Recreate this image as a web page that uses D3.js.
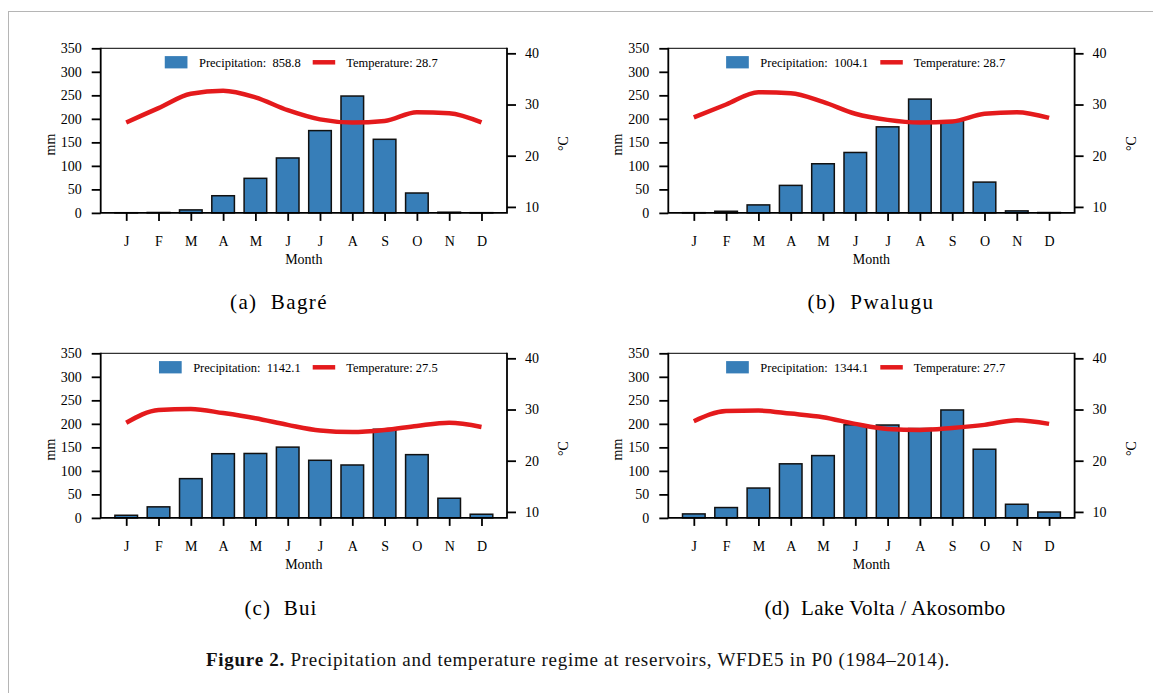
<!DOCTYPE html>
<html>
<head>
<meta charset="utf-8">
<script src="https://cdn.jsdelivr.net/npm/d3@7"></script>
<style>
  body { margin: 0; background: #fff; }
  svg { display: block; }
</style>
</head>
<body>
<div id="fig"></div>
<script>
// 月份
const months = ['J', 'F', 'M', 'A', 'M', 'J', 'J', 'A', 'S', 'O', 'N', 'D']

// 各水库降水 (mm)
const precipBagre = [0.4, 0.9, 6.4, 36.5, 73.5, 116.8, 175.0, 248.5, 156.5, 42.3, 1.5, 0.5]
const precipPwalugu = [0.5, 3.5, 17.0, 58.5, 104.5, 128.5, 183.0, 242.0, 196.0, 65.5, 4.3, 0.8]
const precipBui = [5.6, 23.5, 83.5, 136.5, 137.0, 150.5, 122.5, 112.5, 188.5, 134.5, 41.8, 7.8]
const precipVolta = [8.5, 22.0, 63.5, 115.0, 132.5, 198.0, 197.5, 190.0, 229.5, 146.0, 29.0, 12.5]

// 各水库气温 (°C)
const tempBagre = [26.5, 29.3, 32.1, 32.7, 31.4, 28.9, 27.1, 26.5, 26.8, 28.5, 28.3, 26.5]
const tempPwalugu = [27.5, 30.0, 32.4, 32.2, 30.5, 28.2, 27.0, 26.5, 26.7, 28.2, 28.5, 27.4]
const tempBui = [27.4, 29.9, 30.1, 29.3, 28.3, 27.0, 25.9, 25.6, 26.0, 26.8, 27.4, 26.6]
const tempVolta = [27.7, 29.7, 29.8, 29.2, 28.5, 27.2, 26.2, 26.0, 26.4, 27.0, 27.9, 27.2]

// 图例数值与子图标题
const precipTotals = ['858.8', '1004.1', '1142.1', '1344.1']
const tempMeans = ['28.7', '28.7', '27.5', '27.7']
const panelTitles = ['(a)  Bagré', '(b)  Pwalugu', '(c)  Bui', '(d)  Lake Volta / Akosombo']

// 刻度
const precipTicks = [0, 50, 100, 150, 200, 250, 300, 350]
const tempTicks = [10, 20, 30, 40]

const W = 1153
const H = 693
const blue = '#377eb8'
const red = '#e41a1c'
const serif = '"Liberation Serif", "Times New Roman", serif'

const svg = d3.select('#fig').append('svg').attr('width', W).attr('height', H)

// 外框
svg.append('line').attr('x1', 8).attr('x2', W).attr('y1', 11.5).attr('y2', 11.5)
  .attr('stroke', '#b5b5b5').attr('stroke-width', 1)
svg.append('line').attr('x1', 8.5).attr('x2', 8.5).attr('y1', 11).attr('y2', H)
  .attr('stroke', '#b5b5b5').attr('stroke-width', 1)

const panels = [
  { precip: precipBagre, temp: tempBagre, left: 100.7, top: 48.3, capX: 279, capY: 309, capW: 98 },
  { precip: precipPwalugu, temp: tempPwalugu, left: 668.3, top: 48.3, capX: 871, capY: 309, capW: 127 },
  { precip: precipBui, temp: tempBui, left: 100.7, top: 353.3, capX: 281, capY: 615, capW: 73 },
  { precip: precipVolta, temp: tempVolta, left: 668.3, top: 353.3, capX: 885, capY: 615, capW: 241 }
]

const pw = 406.3
const ph = 164.6

// 拉伸文字到指定宽度 (用字间距)
function fitWidth (sel, target) {
  const n = sel.text().length
  const w = sel.node().getComputedTextLength()
  sel.attr('letter-spacing', (target - w) / n)
}

panels.forEach((p, i) => {
  const left = p.left
  const right = left + pw
  const top = p.top
  const bottom = top + ph

  const x = d3.scaleLinear().domain([-0.79, 11.79]).range([left, right])
  const y = d3.scaleLinear().domain([0, 350]).range([bottom, top])
  const yT = d3.scaleLinear().domain([8.83, 40.98]).range([bottom, top])
  const bw = x(0.7) - x(0)

  const g = svg.append('g')

  // 柱子
  g.selectAll('rect.bar').data(p.precip).enter().append('rect')
    .attr('class', 'bar')
    .attr('x', (d, k) => x(k) - bw / 2)
    .attr('y', d => y(d))
    .attr('width', bw)
    .attr('height', d => y(0) - y(d))
    .attr('fill', blue)
    .attr('stroke', '#111')
    .attr('stroke-width', 1.5)

  // 气温线
  const line = d3.line().x((d, k) => x(k)).y(d => yT(d)).curve(d3.curveMonotoneX)
  g.append('path').datum(p.temp)
    .attr('d', line)
    .attr('fill', 'none')
    .attr('stroke', red)
    .attr('stroke-width', 4.5)
    .attr('stroke-linejoin', 'round')

  // 坐标轴
  const axL = g.append('g').attr('transform', `translate(${left},0)`)
    .call(d3.axisLeft(y).tickValues(precipTicks).tickSize(9).tickPadding(10))
  const axR = g.append('g').attr('transform', `translate(${right},0)`)
    .call(d3.axisRight(yT).tickValues(tempTicks).tickSize(9).tickPadding(9))
  const axB = g.append('g').attr('transform', `translate(0,${bottom})`)
    .call(d3.axisBottom(x).tickValues(d3.range(12)).tickFormat(k => months[k]).tickSize(8).tickPadding(15))
  ;[axL, axR, axB].forEach(a => {
    a.select('.domain').remove()
    a.selectAll('line').attr('stroke', '#000').attr('stroke-width', 1.8)
    a.selectAll('text').attr('font-family', serif).attr('font-size', 14).attr('fill', '#000')
  })

  // 边框
  g.append('line').attr('x1', left).attr('x2', right).attr('y1', top).attr('y2', top)
    .attr('stroke', '#000').attr('stroke-width', 1)
  g.append('path')
    .attr('d', `M${left},${top - 0.5}V${bottom}H${right}V${top - 0.5}`)
    .attr('fill', 'none').attr('stroke', '#000').attr('stroke-width', 1.8)

  // 轴标题
  g.append('text')
    .attr('transform', `translate(${left - 46},${(top + bottom) / 2 + 14}) rotate(-90)`)
    .attr('text-anchor', 'middle')
    .attr('font-family', serif).attr('font-size', 14)
    .text('mm')
  g.append('text')
    .attr('transform', `translate(${right + 61},${(top + bottom) / 2 + 13}) rotate(-90)`)
    .attr('text-anchor', 'middle')
    .attr('font-family', serif).attr('font-size', 14)
    .text('°C')
  g.append('text')
    .attr('x', (left + right) / 2).attr('y', bottom + 51.5)
    .attr('text-anchor', 'middle')
    .attr('font-family', serif).attr('font-size', 14)
    .text('Month')

  // 图例
  const lgY = top + 14
  const redX = left + 212
  g.append('line').attr('x1', redX).attr('x2', redX + 22.5).attr('y1', lgY).attr('y2', lgY)
    .attr('stroke', red).attr('stroke-width', 4.5)
  g.append('text')
    .attr('x', redX + 33.5).attr('y', lgY + 4.4)
    .attr('font-family', serif).attr('font-size', 12.5)
    .text('Temperature: ' + tempMeans[i])
  const ptxt = g.append('text')
    .attr('x', redX - 12).attr('y', lgY + 4.4)
    .attr('text-anchor', 'end')
    .attr('font-family', serif).attr('font-size', 12.5)
    .style('white-space', 'pre')
    .text('Precipitation:  ' + precipTotals[i])
  const tw = ptxt.node().getComputedTextLength()
  g.append('rect')
    .attr('x', redX - 12 - tw - 11.5 - 22.7).attr('y', lgY - 6.2)
    .attr('width', 22.7).attr('height', 12.3)
    .attr('fill', blue)

  // 子图标题
  const cap = svg.append('text')
    .attr('x', p.capX).attr('y', p.capY)
    .attr('text-anchor', 'middle')
    .attr('font-family', serif).attr('font-size', 21)
    .style('white-space', 'pre')
    .text(panelTitles[i])
  fitWidth(cap, p.capW)
})

// 图注
const caption = svg.append('text')
  .attr('x', 578).attr('y', 666)
  .attr('text-anchor', 'middle')
  .attr('font-family', serif).attr('font-size', 19)
  .attr('fill', '#111')
caption.append('tspan').attr('font-weight', 'bold').text('Figure 2.')
caption.append('tspan').text(' Precipitation and temperature regime at reservoirs, WFDE5 in P0 (1984–2014).')
fitWidth(caption, 744)
</script>
</body>
</html>
